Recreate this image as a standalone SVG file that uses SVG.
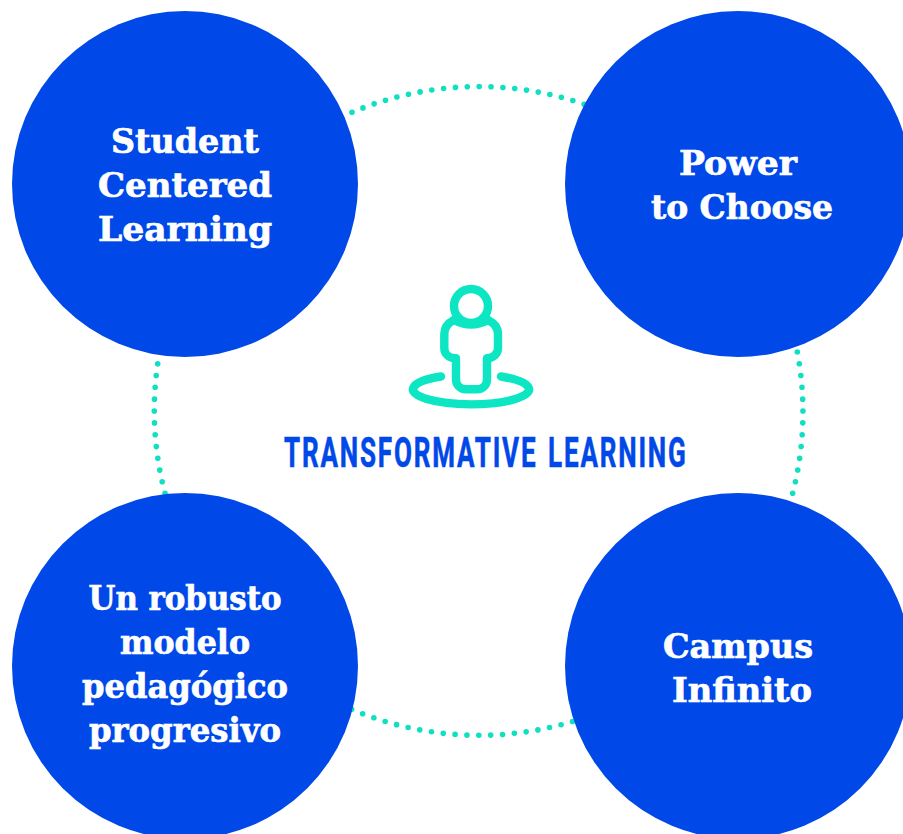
<svg xmlns="http://www.w3.org/2000/svg" width="903" height="834" viewBox="0 0 903 834">
<style>
.dots{fill:none;stroke:#0fe0c0;stroke-width:5.6;stroke-linecap:round;stroke-dasharray:0 11.87}
.disc{fill:#0048e8}
.lbl{font-family:"DejaVu Serif","Liberation Serif",serif;font-weight:700;font-size:33px;fill:#fff;stroke:#fff;stroke-width:.7;text-anchor:middle}
.ico{fill:none;stroke:#0ce6c2;stroke-width:8.4;stroke-linecap:round;stroke-linejoin:round}
.title{font-family:"Roboto","Liberation Sans",sans-serif;font-weight:700;font-size:43px;letter-spacing:3px;word-spacing:4px;fill:#0048e8;stroke:#0048e8;stroke-width:.6}
</style>
<rect width="903" height="834" fill="#fff"/>
<g id="connectors">
<path class="dots" d="M352 112.300A324.300 324.300 0 0 1 590 106.300"/>
<path class="dots" d="M797.300 352A324.300 324.300 0 0 1 790 503"/>
<path class="dots" d="M351.700 709.300A324.300 324.300 0 0 0 578 719.800"/>
<path class="dots" d="M157.700 363.700A324.300 324.300 0 0 0 166 497"/>
</g>
<g id="node-student"><circle class="disc" cx="185" cy="184" r="173"/>
<text class="lbl" x="185" y="153" textLength="148" lengthAdjust="spacingAndGlyphs">Student</text>
<text class="lbl" x="185" y="197" textLength="174" lengthAdjust="spacingAndGlyphs">Centered</text>
<text class="lbl" x="185" y="241" textLength="174" lengthAdjust="spacingAndGlyphs">Learning</text></g>
<g id="node-power"><circle class="disc" cx="738" cy="184" r="173"/>
<text class="lbl" x="738" y="175" textLength="118" lengthAdjust="spacingAndGlyphs">Power</text>
<text class="lbl" x="742" y="219" textLength="182" lengthAdjust="spacingAndGlyphs">to Choose</text></g>
<g id="node-robusto"><circle class="disc" cx="185" cy="666" r="173"/>
<text class="lbl" x="185" y="610" textLength="193" lengthAdjust="spacingAndGlyphs">Un robusto</text>
<text class="lbl" x="185" y="654" textLength="130" lengthAdjust="spacingAndGlyphs">modelo</text>
<text class="lbl" x="185" y="698" textLength="206" lengthAdjust="spacingAndGlyphs">pedagógico</text>
<text class="lbl" x="185" y="742" textLength="192" lengthAdjust="spacingAndGlyphs">progresivo</text></g>
<g id="node-campus"><circle class="disc" cx="738" cy="666" r="173"/>
<text class="lbl" x="738" y="658" textLength="150" lengthAdjust="spacingAndGlyphs">Campus</text>
<text class="lbl" x="742" y="702" textLength="140" lengthAdjust="spacingAndGlyphs">Infinito</text></g>
<g id="node-center">
<circle class="ico" cx="471" cy="306" r="17"/>
<path class="ico" d="M454 320Q471 329 488 320"/>
<path class="ico" d="M454 320C448 323 444.300 328 444.300 334V348C444.300 354 449 358.300 456 358.300V379C456 385 460 389.300 466 389.300H477C483 389.300 487 385 487 379V358.300C493 358.300 498 354 498 348V334C498 328 494 323 488 320"/>
<path class="ico" d="M441 376.500A58 15 0 1 0 501 376.500"/>
<text class="title" transform="translate(284 467) scale(.62 1)" textLength="651" lengthAdjust="spacingAndGlyphs">TRANSFORMATIVE LEARNING</text>
</g>
</svg>
